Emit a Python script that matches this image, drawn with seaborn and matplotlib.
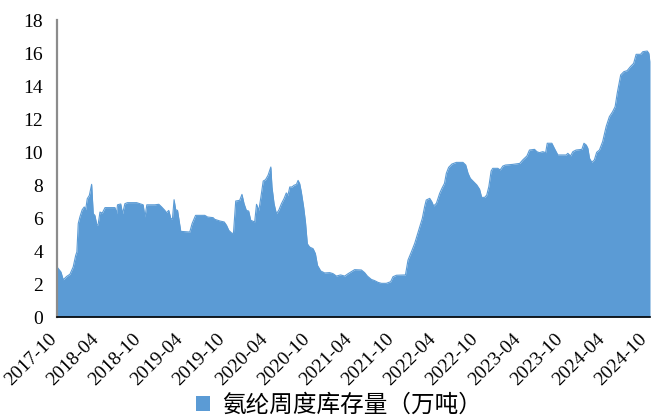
import matplotlib
matplotlib.use("Agg")
import matplotlib.pyplot as plt
from matplotlib.patches import Patch
from matplotlib.transforms import ScaledTranslation
import pandas as pd
import seaborn as sns

# Weekly spandex inventory readings (10k tonnes)
dates = [
    "2017-10-01", "2017-10-18", "2017-10-28", "2017-11-12", "2017-11-26", "2017-12-10",
    "2017-12-21", "2017-12-26", "2018-01-01", "2018-01-08", "2018-01-18", "2018-01-27",
    "2018-02-02", "2018-02-09", "2018-02-18", "2018-02-28", "2018-03-07", "2018-03-14",
    "2018-03-23", "2018-03-28", "2018-04-05", "2018-04-15", "2018-04-27", "2018-06-09",
    "2018-06-16", "2018-06-20", "2018-07-04", "2018-07-12", "2018-07-22", "2018-08-02",
    "2018-09-11", "2018-10-09", "2018-10-17", "2018-10-25", "2018-11-29", "2018-12-16",
    "2018-12-28", "2019-01-11", "2019-01-18", "2019-01-28", "2019-02-06", "2019-02-13",
    "2019-02-20", "2019-02-27", "2019-03-07", "2019-03-21", "2019-04-29", "2019-05-09",
    "2019-05-24", "2019-07-03", "2019-07-15", "2019-08-08", "2019-08-15", "2019-09-06",
    "2019-09-25", "2019-10-05", "2019-10-15", "2019-10-27", "2019-11-04", "2019-11-14",
    "2019-12-01", "2019-12-11", "2019-12-20", "2019-12-30", "2020-01-09", "2020-01-18",
    "2020-02-04", "2020-02-12", "2020-02-22", "2020-03-02", "2020-03-12", "2020-03-22",
    "2020-04-02", "2020-04-14", "2020-04-19", "2020-04-28", "2020-05-08", "2020-05-18",
    "2020-05-30", "2020-06-10", "2020-06-20", "2020-06-27", "2020-07-05", "2020-07-15",
    "2020-07-23", "2020-08-03", "2020-08-10", "2020-08-17", "2020-08-24", "2020-09-03",
    "2020-09-11", "2020-09-19", "2020-09-29", "2020-10-14", "2020-10-24", "2020-11-02",
    "2020-11-16", "2020-12-03", "2020-12-25", "2021-01-08", "2021-01-23", "2021-02-10",
    "2021-02-28", "2021-03-15", "2021-03-31", "2021-04-12", "2021-05-11", "2021-05-25",
    "2021-06-06", "2021-06-23", "2021-07-08", "2021-07-22", "2021-08-06", "2021-08-27",
    "2021-09-15", "2021-09-25", "2021-10-10", "2021-11-18", "2021-11-29", "2021-12-14",
    "2021-12-28", "2022-01-08", "2022-01-18", "2022-01-30", "2022-02-09", "2022-02-16",
    "2022-03-03", "2022-03-12", "2022-03-20", "2022-04-01", "2022-04-15", "2022-04-25",
    "2022-05-06", "2022-05-14", "2022-05-24", "2022-06-07", "2022-06-26", "2022-07-25",
    "2022-08-06", "2022-08-16", "2022-08-26", "2022-09-09", "2022-09-23", "2022-10-05",
    "2022-10-14", "2022-10-27", "2022-11-05", "2022-11-14", "2022-11-24", "2022-12-01",
    "2022-12-23", "2023-01-02", "2023-01-14", "2023-01-25", "2023-02-26", "2023-03-28",
    "2023-04-10", "2023-04-28", "2023-05-09", "2023-05-31", "2023-06-10", "2023-06-21",
    "2023-07-06", "2023-07-18", "2023-07-25", "2023-08-14", "2023-08-25", "2023-09-09",
    "2023-10-15", "2023-10-22", "2023-11-03", "2023-11-13", "2023-11-27", "2023-12-22",
    "2023-12-31", "2024-01-10", "2024-01-17", "2024-01-24", "2024-02-03", "2024-02-14",
    "2024-02-24", "2024-03-07", "2024-03-21", "2024-04-05", "2024-04-19", "2024-05-03",
    "2024-05-14", "2024-05-23", "2024-06-07", "2024-06-21", "2024-07-05", "2024-07-19",
    "2024-08-02", "2024-08-13", "2024-09-01", "2024-09-11", "2024-09-30", "2024-10-07",
    "2024-10-12",
]
inventory = [
    3.03, 2.73, 2.26, 2.46, 2.59, 3.03,
    3.74, 3.94, 5.66, 6.06, 6.50, 6.67,
    6.50, 7.17, 7.37, 8.04, 6.26, 6.16,
    5.56, 5.60, 6.36, 6.30, 6.63, 6.63,
    6.26, 6.80, 6.85, 6.26, 6.87, 6.93,
    6.93, 6.80, 6.06, 6.80, 6.80, 6.83,
    6.67, 6.46, 6.32, 6.46, 5.96, 5.96,
    7.11, 6.50, 6.46, 5.19, 5.15, 5.66,
    6.16, 6.16, 6.06, 6.02, 5.92, 5.82,
    5.76, 5.56, 5.25, 5.09, 5.05, 7.03,
    7.07, 7.43, 6.87, 6.46, 6.42, 5.86,
    5.76, 6.83, 6.46, 7.27, 8.24, 8.32,
    8.59, 9.09, 7.88, 6.87, 6.26, 6.46,
    6.87, 7.17, 7.52, 7.37, 7.88, 7.88,
    7.98, 8.04, 8.28, 8.08, 7.58, 6.67,
    5.76, 4.44, 4.24, 4.14, 3.84, 3.13,
    2.79, 2.67, 2.69, 2.63, 2.48, 2.55,
    2.48, 2.63, 2.77, 2.87, 2.85, 2.69,
    2.48, 2.28, 2.20, 2.10, 2.04, 2.04,
    2.14, 2.44, 2.53, 2.55, 3.45, 3.96,
    4.46, 4.97, 5.43, 5.98, 6.69, 7.09,
    7.19, 6.99, 6.73, 6.89, 7.49, 7.80,
    8.10, 8.71, 9.07, 9.27, 9.37, 9.37,
    9.21, 8.71, 8.40, 8.20, 8.00, 7.74,
    7.25, 7.25, 7.39, 7.90, 8.85, 9.01,
    9.01, 8.91, 9.15, 9.21, 9.25, 9.31,
    9.52, 9.76, 10.12, 10.16, 10.02, 9.96,
    10.02, 9.96, 10.53, 10.53, 10.22, 9.82,
    9.82, 9.92, 9.76, 10.02, 10.12, 10.16,
    10.53, 10.42, 10.22, 9.62, 9.37, 9.52,
    9.98, 10.12, 10.63, 11.54, 12.14, 12.44,
    12.75, 13.56, 14.67, 14.87, 14.93, 15.17,
    15.37, 15.92, 15.92, 16.08, 16.12, 15.98,
    15.50,
]
tick_labels = ["2017-10", "2018-04", "2018-10", "2019-04", "2019-10", "2020-04",
               "2020-10", "2021-04", "2021-10", "2022-04", "2022-10", "2023-04",
               "2023-10", "2024-04", "2024-10"]
series_name = "氨纶周度库存量（万吨）"

df = pd.DataFrame({"date": pd.to_datetime(dates), "inventory": inventory})

sns.set_theme(style="white")
plt.rcParams["font.family"] = ["Liberation Serif", "Noto Sans CJK SC"]
plt.rcParams["text.color"] = "#000000"

fill_color = "#5B9BD5"

fig = plt.figure(figsize=(6.51, 4.19), dpi=100)
ax = fig.add_axes([57 / 651, 1 - 317 / 419, 593 / 651, 297 / 419])

sns.lineplot(data=df, x="date", y="inventory", ax=ax, color=fill_color,
             linewidth=0.8, legend=False)
ax.fill_between(df["date"], 0, df["inventory"], color=fill_color, linewidth=0)

ax.set_ylim(0, 18)
ax.set_yticks(range(0, 19, 2))
ax.set_xlim(pd.Timestamp("2017-10-01"), pd.Timestamp("2024-10-12"))
tick_pos = pd.to_datetime([t + "-01" for t in tick_labels])
ax.set_xticks(tick_pos)
ax.set_xticklabels(tick_labels, rotation=45, ha="right", va="center",
                   rotation_mode="anchor")
ax.set_xlabel("")
ax.set_ylabel("")

for side in ("top", "right"):
    ax.spines[side].set_visible(False)
ax.spines["left"].set_color("#8c8c8c")
ax.spines["left"].set_linewidth(1.6)
ax.spines["bottom"].set_color("#000000")
ax.spines["bottom"].set_linewidth(1.2)

ax.tick_params(axis="x", direction="in", length=4, width=1.2, color="#404a58",
               labelsize=14, pad=14, labelcolor="#000000")
ax.tick_params(axis="y", direction="in", length=4, width=1.0, color="#404040",
               labelsize=14, pad=10, labelcolor="#000000")
shift_left = ScaledTranslation(-3 / 100, 0, fig.dpi_scale_trans)
for lbl in ax.get_xticklabels():
    lbl.set_transform(lbl.get_transform() + shift_left)
ax.grid(False)

handle = Patch(facecolor=fill_color, edgecolor="none", label=series_name)
fig.legend(handles=[handle], loc="center", bbox_to_anchor=(0.521, 1 - 405 / 419),
           frameon=False, prop={"family": ["Noto Sans CJK SC"], "size": 17},
           handlelength=0.6, handleheight=0.6, handletextpad=0.5,
           borderpad=0.1)

fig.savefig("out.png", dpi=100)
